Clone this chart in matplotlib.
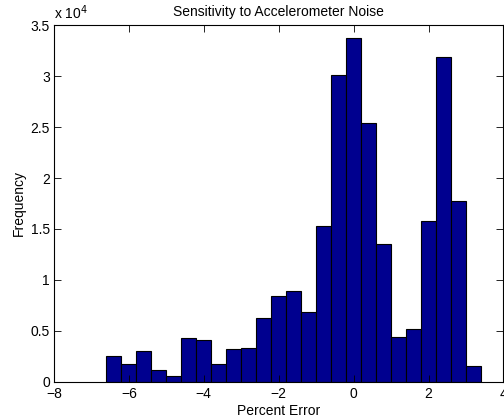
import matplotlib
matplotlib.use("Agg")
import matplotlib.pyplot as plt

# histogram of percent error (bin centres and counts)
bin_centers = [-6.4, -6.0, -5.6, -5.2, -4.8, -4.4, -4.0, -3.6, -3.2, -2.8,
               -2.4, -2.0, -1.6, -1.2, -0.8, -0.4, 0.0, 0.4, 0.8, 1.2,
               1.6, 2.0, 2.4, 2.8, 3.2]
counts = [2560, 1770, 3020, 1110, 560, 4300, 4100, 1700, 3180, 3280,
          6300, 8380, 8880, 6820, 15270, 30120, 33760, 25370, 13540, 4420,
          5140, 15760, 31930, 17730, 1540]
bin_width = 0.4

x_ticks = [-8, -6, -4, -2, 0, 2, 4]
y_ticks = [0, 5000, 10000, 15000, 20000, 25000, 30000, 35000]
y_tick_labels = ["0", "0.5", "1", "1.5", "2", "2.5", "3", "3.5"]

plt.rcParams["font.family"] = ["Liberation Sans", "DejaVu Sans"]
plt.rcParams["font.size"] = 10

fig = plt.figure(figsize=(5.04, 4.2), dpi=100)
ax = fig.add_axes([0.107, 0.0912, 0.892, 0.8486])

ax.bar(bin_centers, counts, width=bin_width, color="#00008F",
       edgecolor="black", linewidth=0.8)

ax.set_xlim(-8, 4)
ax.set_ylim(0, 35000)
ax.set_xticks(x_ticks)
ax.set_xticklabels([str(t).replace("-", "\u2212") for t in x_ticks])
ax.set_yticks(y_ticks)
ax.set_yticklabels(y_tick_labels)
ax.tick_params(direction="in", length=5, width=0.6, top=True, right=True,
               labelsize=10)
ax.tick_params(axis="x", pad=4)
ax.tick_params(axis="y", pad=3)
for s in ax.spines.values():
    s.set_linewidth(0.8)

ax.text(0.0, 1.01, r"x 10$^4$", transform=ax.transAxes, fontsize=10,
        ha="left", va="bottom")
ax.set_title("Sensitivity to Accelerometer Noise", fontsize=10, pad=7)
ax.set_xlabel("Percent Error", fontsize=10, labelpad=2)
ax.set_ylabel("Frequency", fontsize=10, labelpad=3)

fig.savefig("out.png", dpi=100)
